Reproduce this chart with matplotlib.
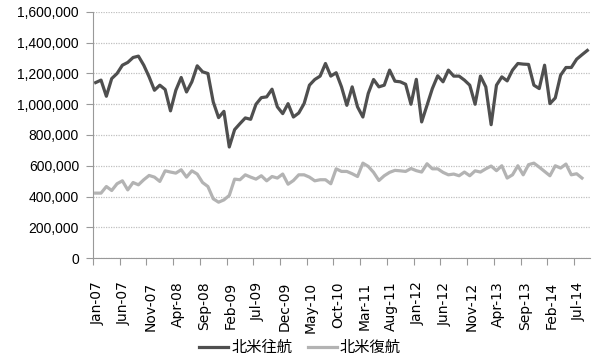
import numpy as np
import pandas as pd
import matplotlib
matplotlib.use('Agg')
import matplotlib.pyplot as plt
from matplotlib.ticker import FuncFormatter

plt.rcParams['font.family'] = ['Liberation Sans', 'Noto Sans CJK JP', 'DejaVu Sans']

# 月次 Jan-07 .. Sep-14
months = pd.date_range('2007-01-01', '2014-09-01', freq='MS')
labels = [m.strftime('%b-%y') for m in months]

outbound = [1141000, 1157000, 1052000, 1167000, 1200000, 1254000, 1272000, 1304000, 1313000, 1254000,
            1178000, 1091000, 1124000, 1096000, 957000, 1091000, 1174000, 1080000, 1146000, 1250000,
            1211000, 1200000, 1015000, 913000, 954000, 722000, 835000, 874000, 911000, 902000,
            1000000, 1043000, 1048000, 1098000, 983000, 939000, 1004000, 917000, 943000, 1004000,
            1124000, 1161000, 1183000, 1265000, 1183000, 1205000, 1113000, 993000, 1113000, 983000,
            917000, 1070000, 1161000, 1113000, 1124000, 1222000, 1150000, 1146000, 1130000, 1000000,
            1162000, 885000, 993000, 1102000, 1185000, 1146000, 1222000, 1183000, 1183000, 1157000,
            1124000, 1000000, 1183000, 1113000, 867000, 1124000, 1178000, 1152000, 1222000, 1265000,
            1261000, 1259000, 1124000, 1102000, 1254000, 1004000, 1041000, 1189000, 1239000, 1239000,
            1293000, 1322000, 1350000]

inbound = [422000, 422000, 465000, 439000, 483000, 502000, 443000, 491000, 476000, 509000,
           537000, 526000, 498000, 567000, 559000, 552000, 574000, 526000, 567000, 546000,
           491000, 465000, 385000, 363000, 378000, 407000, 513000, 509000, 541000, 526000,
           513000, 535000, 502000, 530000, 520000, 546000, 480000, 504000, 541000, 541000,
           526000, 502000, 509000, 509000, 483000, 580000, 563000, 563000, 548000, 530000,
           617000, 596000, 557000, 504000, 535000, 557000, 570000, 567000, 563000, 582000,
           568000, 559000, 613000, 580000, 580000, 557000, 541000, 546000, 535000, 559000,
           535000, 567000, 559000, 580000, 598000, 568000, 600000, 520000, 541000, 600000,
           541000, 607000, 617000, 591000, 563000, 535000, 600000, 585000, 611000, 541000,
           548000, 520000]

fig = plt.figure(figsize=(6.0, 3.58), dpi=100)
ax = fig.add_axes([93 / 600, 1 - 258 / 358, 497 / 600, 246 / 358])

x = np.arange(len(months))
ax.plot(x, outbound, color='#4f4f4f', lw=2.3, label='北米往航')
ax.plot(x[:len(inbound)], inbound, color='#b3b3b3', lw=2.3, label='北米復航')

ax.set_xlim(-0.5, len(months) - 0.5)
ax.set_ylim(0, 1600000)
ax.set_yticks(np.arange(0, 1600001, 200000))
ax.yaxis.set_major_formatter(FuncFormatter(lambda v, p: '{:,.0f}'.format(v)))
ax.grid(axis='y', color='#c0c0c0', ls=(0, (1, 1)), lw=0.9)
ax.set_axisbelow(True)

# ticks at category boundaries, labels at category centres
step = 5
ax.set_xticks(x[::step] - 0.5)
ax.set_xticklabels([])
ax.set_xticks(x[::step] + 0.3, minor=True)
ax.set_xticklabels(labels[::step], minor=True, rotation=90, fontsize=10,
                   family=['DejaVu Sans'])
ax.tick_params(axis='x', which='major', length=5, color='#999999')
ax.tick_params(axis='x', which='minor', length=0, pad=17)
ax.tick_params(axis='y', length=5, color='#999999', labelsize=10, pad=5)

for s in ['top', 'right']:
    ax.spines[s].set_visible(False)
for s in ['left', 'bottom']:
    ax.spines[s].set_color('#999999')

fig.legend(loc='center', bbox_to_anchor=(0.5, 1 - 348 / 358), ncol=2, frameon=False,
           fontsize=11, handlelength=1.9, handletextpad=0.2, columnspacing=1.0)

fig.savefig('out.png', dpi=100)
